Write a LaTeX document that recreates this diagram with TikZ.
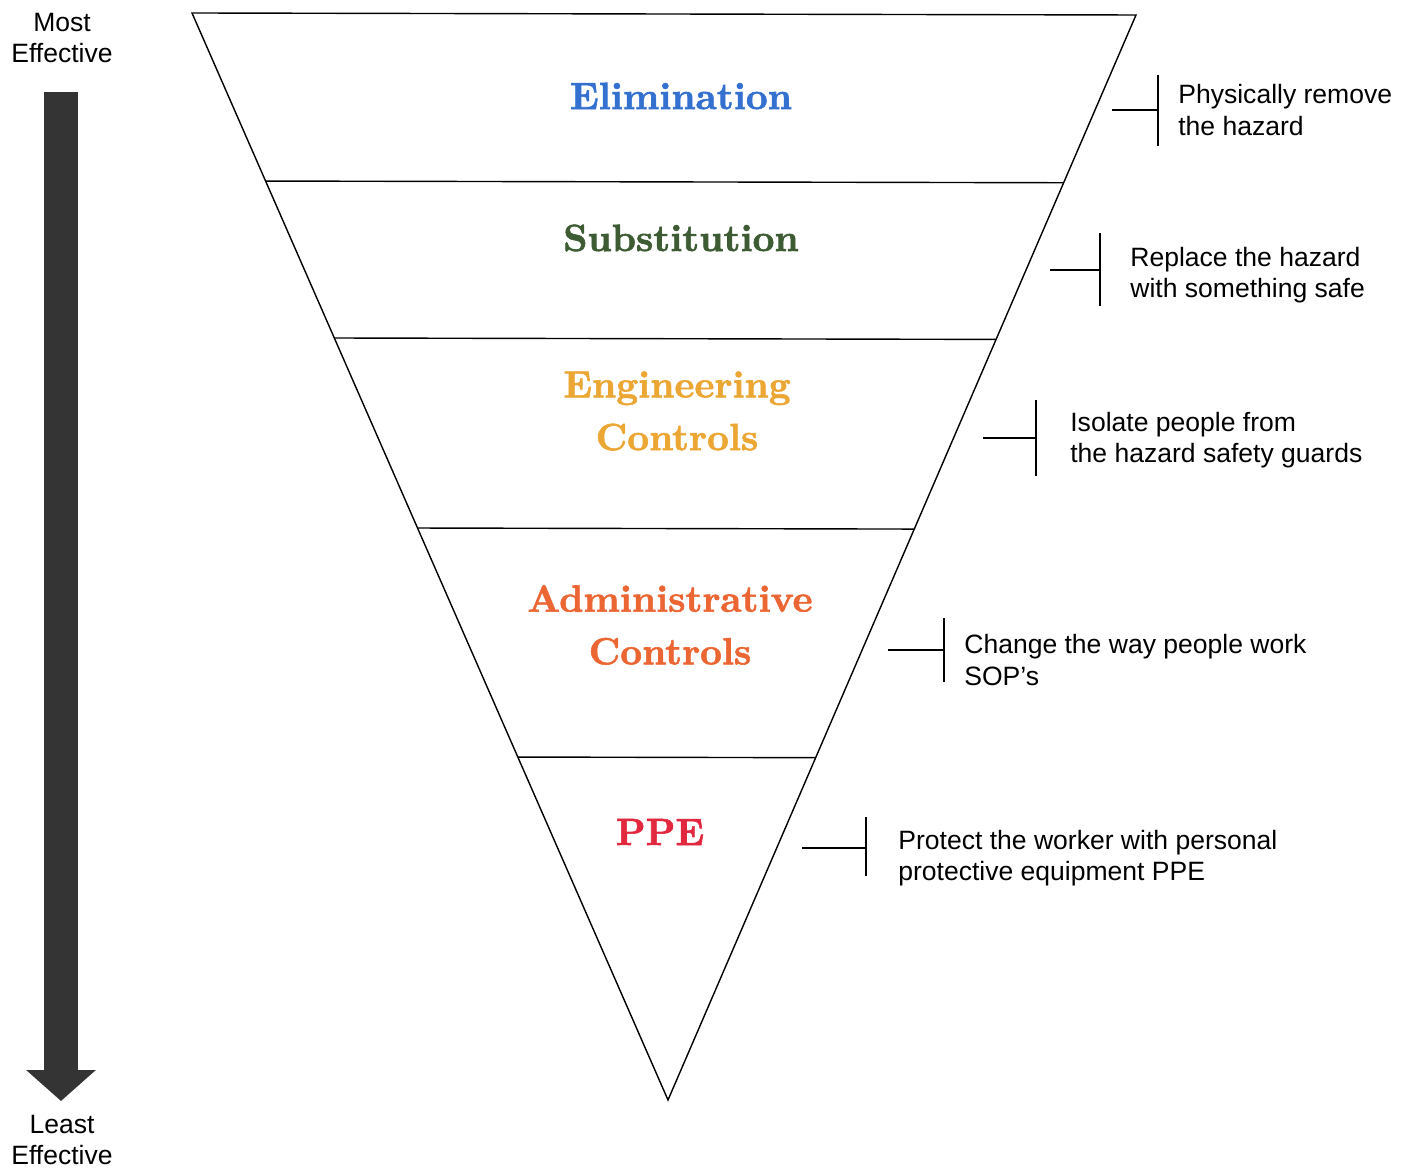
\documentclass[tikz,border=0pt]{standalone}
\usepackage{fontspec}
\setsansfont{Liberation Sans}
\newfontfamily\headfont{lmroman10-bold}[Extension=.otf, FakeBold=1.6]
\usepackage{tikz}
\usetikzlibrary{arrows.meta,calc,positioning}

\definecolor{elimblue}{RGB}{52,112,208}
\definecolor{substgreen}{RGB}{62,92,52}
\definecolor{engorange}{RGB}{236,166,52}
\definecolor{adminorange}{RGB}{236,102,52}
\definecolor{ppered}{RGB}{226,40,62}
\definecolor{arrowgray}{RGB}{52,52,52}

\tikzset{
  level/.style={font=\headfont\fontsize{21.6}{30}\selectfont, align=center},
  note/.style={font=\sffamily\fontsize{15.1}{17.8}\selectfont, anchor=west, align=left, inner sep=0pt},
  tag/.style={font=\sffamily\fontsize{15.1}{17.8}\selectfont, align=center, inner sep=0pt},
  rung/.style={line width=0.8pt},
  brace/.style={line width=0.8pt}
}

\begin{document}
\begin{tikzpicture}[x=0.02cm,y=-0.02cm]
      \useasboundingbox (0,0) rectangle (1412,1168);
      % the funnel
      \coordinate (tl) at (192,13);
      \coordinate (tr) at (1136,15);
      \coordinate (apex) at (668,1100);
      \draw[rung,line join=miter] (tl) -- (tr) -- (apex) -- cycle;
      \foreach \t/\n in {0.1546/a,0.2990/b,0.4738/c,0.6845/d}{
        \coordinate (l\n) at ($(tl)!\t!(apex)$);
        \coordinate (r\n) at ($(tr)!\t!(apex)$);
        \draw[rung] (l\n) -- (r\n);
      }
      % level names
      \path (681,96) node[level,text=elimblue] (elim) {Elimination}
      (681,238) node[level,text=substgreen] (subst) {Substitution}
      (677,411) node[level,text=engorange] (eng) {Engineering\\Controls}
      (670,625) node[level,text=adminorange] (admin) {Administrative\\Controls}
      (660,832) node[level,text=ppered] (ppe) {PPE};
      % notes on the right
      \node[note] (n1) at (1178,110) {Physically remove\\the hazard};
      \node[note] (n2) at (1130,275) {Replace the hazard\\with something safe};
      \node[note] (n3) at (1070,440) {Isolate people from\\the hazard safety guards};
      \node[note] (n4) at (964,660) {Change the way people work\\SOP's};
      \node[note] (n5) at (898,858) {Protect the worker with personal\\protective equipment PPE};
      \foreach \n/\xa/\xb/\ym/\ya/\yb in {1/1112/1158/110/75/146,2/1050/1100/270/233/306,
          3/983/1036/438/400/476,4/888/944/650/618/682,5/802/866/848/817/876}{
        \coordinate (h\n) at (\xa,\ym);
        \coordinate (k\n) at (\xb,\ym);
        \coordinate (u\n) at (\xb,\ya);
        \coordinate (v\n) at (\xb,\yb);
        \draw[brace] (h\n) -- (k\n);
        \draw[brace] (u\n) -- (v\n);
      }
      % effectiveness arrow
      \node[tag] (most) at (62,38) {Most\\Effective};
      \node[tag] (least) at (62,1140) {Least\\Effective};
      \coordinate (top) at (61,92);
      \coordinate (tip) at (61,1101);
      \draw[arrowgray,line width=34*0.02cm,-{Triangle[width=68*0.02cm,length=31*0.02cm]}] (top) -- (tip);
    \end{tikzpicture}
\end{document}
